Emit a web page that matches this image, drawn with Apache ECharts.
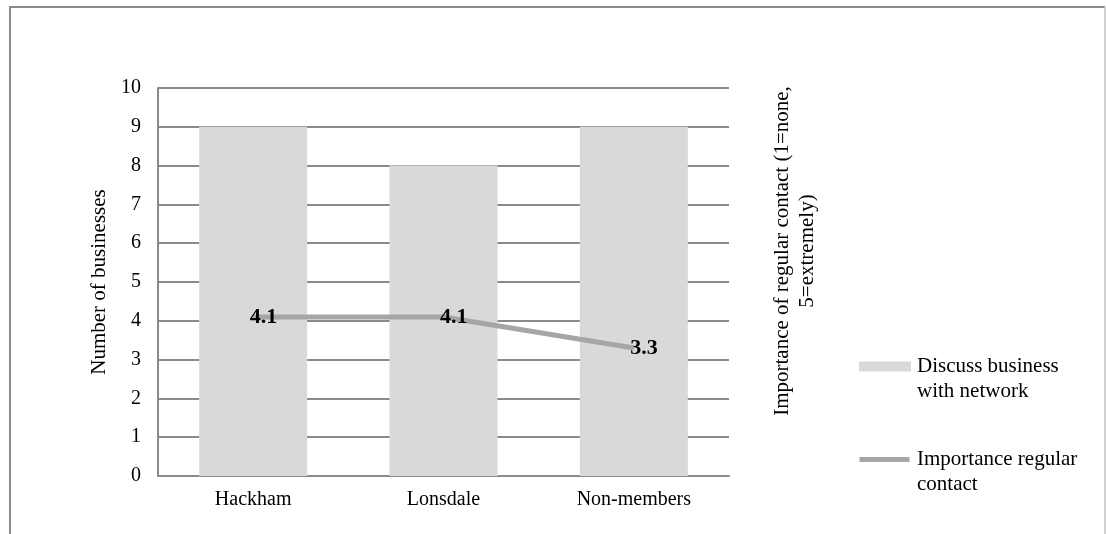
<!DOCTYPE html>
<html>
<head>
<meta charset="utf-8">
<script src="https://cdn.jsdelivr.net/npm/echarts@6/dist/echarts.min.js"></script>
<style>html,body{margin:0;padding:0;background:#fff;}#c{width:1106px;height:534px;}</style>
</head>
<body>
<div id="c"></div>
<script>
const categories = ['Hackham', 'Lonsdale', 'Non-members'];
const discussValues = [9, 8, 9];
const importanceValues = [4.1, 4.1, 3.3];
const yTicks = [0, 10, 1]; // min, max, interval
const seriesNames = ['Discuss business with network', 'Importance regular contact'];
const legendLabels = ['Discuss business\nwith network', 'Importance regular\ncontact'];

const FONT = '"Liberation Serif", "Times New Roman", serif';
const GRID_C = '#8a8a8a';

const chart = echarts.init(document.getElementById('c'));
chart.setOption({
  animation: false,
  backgroundColor: '#fff',
  textStyle: { fontFamily: FONT, color: '#000' },
  grid: { left: 158, top: 88, width: 571, height: 388 },
  xAxis: {
    type: 'category',
    data: categories,
    axisLine: { lineStyle: { color: GRID_C, width: 2 } },
    axisTick: { show: false },
    axisLabel: { fontFamily: FONT, fontSize: 20, color: '#000', margin: 14 }
  },
  yAxis: {
    type: 'value',
    min: yTicks[0], max: yTicks[1], interval: yTicks[2],
    name: 'Number of businesses',
    nameLocation: 'middle',
    nameGap: 45,
    nameTextStyle: { fontFamily: FONT, fontSize: 21, color: '#000' },
    axisLine: { show: true, lineStyle: { color: GRID_C, width: 2 } },
    axisTick: { show: false },
    axisLabel: { fontFamily: FONT, fontSize: 20, color: '#000', margin: 17 },
    splitLine: { lineStyle: { color: GRID_C, width: 2 } }
  },
  legend: {
    orient: 'vertical',
    left: 857,
    top: 354,
    padding: 0,
    itemWidth: 55,
    itemHeight: 50,
    itemGap: 43,
    textStyle: { fontFamily: FONT, fontSize: 21, color: '#000', lineHeight: 25 },
    formatter: function (name) { return legendLabels[seriesNames.indexOf(name)]; },
    data: [
      { name: seriesNames[0], icon: 'path://M0,0 M55,50 M2,7.5 L54,7.5 L54,17.5 L2,17.5 Z' },
      { name: seriesNames[1], icon: 'path://M0,0 M55,50 M2.5,10 L52.5,10 L52.5,15 L2.5,15 Z' }
    ]
  },
  graphic: [
    { type: 'polyline', silent: true, shape: { points: [[10, 540], [10, 7], [1105, 7]] }, style: { stroke: '#8a8a8a', lineWidth: 2, fill: null } },
    { type: 'line', silent: true, shape: { x1: 1105, y1: 7, x2: 1105, y2: 540 }, style: { stroke: '#d0d0d0', lineWidth: 2 } },
    { type: 'text', silent: true, x: 795, y: 251, rotation: Math.PI / 2,
      style: { text: 'Importance of regular contact (1=none,\n5=extremely)', fontFamily: FONT, fontSize: 21, lineHeight: 25, fill: '#000', align: 'center', verticalAlign: 'middle' } }
  ],
  series: [
    {
      name: seriesNames[0],
      type: 'bar',
      data: discussValues,
      barWidth: 108,
      itemStyle: { color: '#d9d9d9' },
      z: 2
    },
    {
      name: seriesNames[1],
      type: 'line',
      data: importanceValues,
      symbol: 'circle',
      symbolSize: 1,
      lineStyle: { color: '#a6a6a6', width: 5 },
      itemStyle: { color: '#a6a6a6' },
      label: {
        show: true,
        position: 'right',
        distance: -4,
        fontFamily: FONT,
        fontSize: 22,
        fontWeight: 'bold',
        color: '#000',
        formatter: function (p) { return p.value.toFixed(1); }
      },
      z: 3
    }
  ]
});
</script>
</body>
</html>
